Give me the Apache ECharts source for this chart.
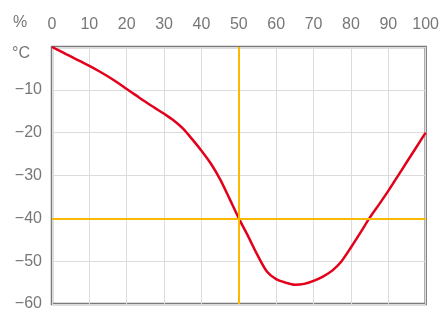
<!DOCTYPE html>
<html>
<head>
<meta charset="utf-8">
<script src="https://cdn.jsdelivr.net/npm/echarts@6/dist/echarts.min.js"></script>
<style>
html,body{margin:0;padding:0;background:#fff;}
#c{width:442px;height:331px;}
</style>
</head>
<body>
<div id="c"></div>
<script>
// Data
const concentration = [0, 2.5, 5, 7.5, 10, 12.5, 15, 17.5, 20, 22.5, 25, 27.5, 30, 32.5, 35, 37.5, 40, 42.5, 45, 47.5, 50, 52.5, 55, 57.5, 60, 62.5, 65, 67.5, 70, 72.5, 75, 77.5, 80, 82.5, 85, 87.5, 90, 92.5, 95, 97.5, 100];
const freezingPoint = [0, -1.1, -2.2, -3.3, -4.4, -5.6, -6.9, -8.3, -9.8, -11.3, -12.8, -14.2, -15.6, -17.1, -19.0, -21.5, -24.2, -27.2, -30.9, -35.4, -40, -44.2, -48.6, -52.4, -54.2, -55.0, -55.5, -55.3, -54.6, -53.6, -52.2, -50.0, -46.8, -43.4, -39.9, -36.8, -33.6, -30.2, -26.8, -23.4, -20];
const markX = [50];
const markY = [-40];
const xTicks = [0, 10, 20, 30, 40, 50, 60, 70, 80, 90, 100];
const yTicks = [0, -10, -20, -30, -40, -50, -60];
const xUnit = '%';
const yUnit = '°C';

const font = 'Liberation Sans, Arial, Helvetica, sans-serif';
const chart = echarts.init(document.getElementById('c'), null, {renderer: 'canvas'});
chart.setOption({
  animation: false,
  grid: {left: 52, right: 16, top: 47, bottom: 27, show: true, borderColor: '#7a7a7a', borderWidth: 2.5, backgroundColor: 'transparent'},
  xAxis: {
    type: 'value', position: 'top', min: xTicks[0], max: xTicks[xTicks.length - 1], interval: 10,
    axisLine: {show: false}, axisTick: {show: false},
    axisLabel: {color: '#777', fontSize: 16, fontFamily: font, margin: 14},
    splitLine: {show: true, lineStyle: {color: '#dcdcdc', width: 1}}
  },
  yAxis: {
    type: 'value', min: yTicks[yTicks.length - 1], max: yTicks[0], interval: 10,
    axisLine: {show: false}, axisTick: {show: false},
    axisLabel: {color: '#777', fontSize: 16, fontFamily: font, margin: 10,
      formatter: v => v === 0 ? '' : String(v).replace('-', '\u2212')},
    splitLine: {show: true, lineStyle: {color: '#dcdcdc', width: 1}}
  },
  graphic: [
    {type: 'text', left: 13, top: 15, style: {text: xUnit, fill: '#777', font: '16px ' + font}},
    {type: 'text', left: 12, top: 46, style: {text: yUnit, fill: '#777', font: '16px ' + font}}
  ],
  series: [
    {
      type: 'line', data: markX.map(x => [x, yTicks[yTicks.length - 1]]), symbol: 'none', lineStyle: {opacity: 0}, z: 1,
      markLine: {
        silent: true, symbol: 'none', label: {show: false},
        lineStyle: {color: '#fbb900', width: 2, type: 'solid'},
        data: markX.map(x => ({xAxis: x})).concat(markY.map(y => ({yAxis: y})))
      }
    },
    {
      type: 'line', data: concentration.map((x, i) => [x, freezingPoint[i]]),
      symbol: 'none', smooth: 0.3, z: 3,
      lineStyle: {color: '#e2001a', width: 2.5}
    }
  ]
});
</script>
</body>
</html>
